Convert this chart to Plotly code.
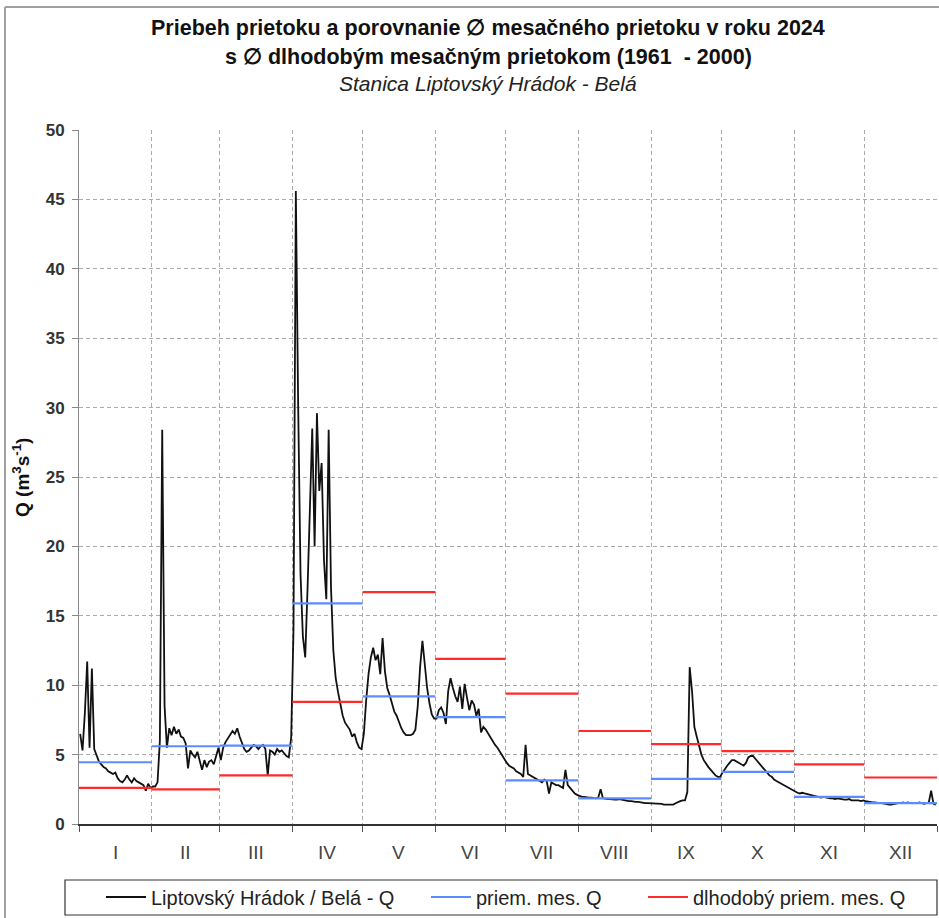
import plotly.graph_objects as go

# ---------------- data ----------------
months = ["I", "II", "III", "IV", "V", "VI", "VII", "VIII", "IX", "X", "XI", "XII"]
month_days = [31, 29, 31, 30, 31, 30, 31, 31, 30, 31, 30, 31]

q_jan = [6.5, 5.3, 8.0, 11.7, 5.5, 11.2, 5.4, 4.9, 4.5, 4.3, 4.1, 4.0, 3.8, 3.7, 3.6, 3.7,
         3.3, 3.1, 3.0, 3.2, 3.5, 3.2, 3.0, 3.3, 3.1, 3.0, 2.9, 2.8, 2.4, 2.9, 2.6]
q_feb = [2.7, 2.7, 3.0, 6.0, 28.4, 8.5, 5.5, 6.9, 6.4, 7.0, 6.5, 6.8, 6.3, 6.2, 5.8, 4.0,
         5.3, 5.0, 4.8, 5.2, 4.5, 3.9, 4.6, 4.1, 4.5, 4.6, 4.3, 5.0, 5.5]
q_mar = [4.6, 5.5, 5.9, 6.2, 6.4, 6.7, 6.5, 6.9, 6.3, 5.8, 5.4, 5.2, 5.3, 5.5, 5.7, 5.6,
         5.4, 5.6, 5.7, 5.4, 3.5, 5.3, 5.2, 5.0, 5.4, 5.2, 5.3, 5.1, 4.9, 4.8, 6.2]
q_apr = [14.0, 45.6, 30.0, 18.0, 13.5, 12.0, 17.0, 22.0, 28.5, 20.0, 29.6, 24.0, 26.0, 19.0,
         16.2, 28.4, 17.0, 12.5, 10.5, 9.5, 8.5, 7.8, 7.3, 7.0, 6.8, 6.3, 6.5, 5.9, 5.5, 5.4]
q_may = [6.5, 8.9, 10.8, 12.0, 12.7, 11.8, 12.2, 10.8, 13.4, 11.0, 9.8, 9.3, 8.6, 8.1, 7.8,
         7.3, 6.9, 6.6, 6.4, 6.4, 6.4, 6.5, 6.8, 8.5, 11.3, 13.2, 11.5, 9.8, 8.7, 7.9, 7.6]
q_jun = [7.6, 8.2, 8.4, 8.0, 7.2, 9.6, 10.5, 9.8, 9.2, 8.8, 9.9, 8.3, 10.1, 9.1, 8.2, 8.9,
         8.6, 7.8, 8.3, 6.6, 7.0, 6.8, 6.5, 6.3, 5.9, 5.7, 5.5, 5.2, 4.9, 4.7]
q_jul = [4.4, 4.2, 4.1, 4.0, 3.8, 3.7, 3.6, 3.4, 5.7, 3.6, 3.5, 3.4, 3.3, 3.2, 3.1, 3.0,
         3.2, 3.1, 2.2, 3.0, 2.9, 2.8, 2.8, 2.7, 2.6, 3.9, 2.8, 2.6, 2.4, 2.2, 2.1]
q_aug = [2.0, 1.95, 1.95, 1.9, 1.9, 1.9, 1.85, 1.85, 1.9, 2.5, 1.85, 1.8, 1.8, 1.8, 1.75,
         1.75, 1.75, 1.8, 1.75, 1.7, 1.7, 1.65, 1.65, 1.6, 1.6, 1.6, 1.55, 1.55, 1.5, 1.5, 1.5]
q_sep = [1.5, 1.5, 1.5, 1.45, 1.45, 1.4, 1.4, 1.4, 1.45, 1.4, 1.5, 1.6, 1.65, 1.7, 1.7,
         2.3, 11.3, 9.6, 7.0, 6.3, 5.6, 5.0, 4.6, 4.3, 4.1, 3.9, 3.7, 3.5, 3.4, 3.4]
q_oct = [3.7, 4.0, 4.2, 4.4, 4.6, 4.6, 4.5, 4.4, 4.3, 4.2, 4.4, 4.8, 4.9, 4.9, 4.7, 4.5,
         4.3, 4.1, 3.9, 3.7, 3.5, 3.4, 3.2, 3.1, 3.0, 2.9, 2.8, 2.7, 2.6, 2.5, 2.4]
q_nov = [2.3, 2.25, 2.2, 2.25, 2.2, 2.15, 2.1, 2.05, 2.0, 1.95, 1.9, 1.9, 1.95, 1.9, 1.9,
         1.85, 1.85, 1.8, 1.85, 1.8, 1.8, 1.75, 1.75, 1.8, 1.7, 1.7, 1.75, 1.7, 1.65, 1.7]
q_dec = [1.65, 1.6, 1.6, 1.55, 1.55, 1.5, 1.5, 1.5, 1.45, 1.45, 1.4, 1.4, 1.45, 1.45, 1.5,
         1.5, 1.55, 1.5, 1.55, 1.5, 1.5, 1.45, 1.5, 1.55, 1.5, 1.45, 1.5, 1.55, 2.4, 1.45, 1.4]

monthly_mean_2024 = [4.45, 5.6, 5.65, 15.9, 9.2, 7.7, 3.15, 1.85, 3.25, 3.75, 1.95, 1.5]
longterm_mean = [2.6, 2.5, 3.5, 8.8, 16.7, 11.9, 9.4, 6.7, 5.75, 5.25, 4.3, 3.35]

y_ticks = [0, 5, 10, 15, 20, 25, 30, 35, 40, 45, 50]

# ---------------- build ----------------
daily = (q_jan + q_feb + q_mar + q_apr + q_may + q_jun + q_jul + q_aug + q_sep +
         q_oct + q_nov + q_dec)
days_x = [i + 0.5 for i in range(len(daily))]

bounds = [0]
for n in month_days:
    bounds.append(bounds[-1] + n)
mids = [(bounds[i] + bounds[i + 1]) / 2 for i in range(12)]


def steps(vals):
    xs, ys = [], []
    for i, v in enumerate(vals):
        xs += [bounds[i], bounds[i + 1], None]
        ys += [v, v, None]
    return xs, ys


bx, by = steps(monthly_mean_2024)
rx, ry = steps(longterm_mean)

FONT = "Liberation Sans"
W, H = 939, 918
L, R, T, B = 79, 2, 130, 94
PW, PH = W - L - R, H - T - B


def px_to_paper_x(px):
    return (px - L) / PW


def px_to_paper_y(py):
    return (H - B - py) / PH


fig = go.Figure()
fig.add_trace(go.Scatter(x=days_x, y=daily, mode="lines", name="Liptovský Hrádok / Belá - Q",
                         line=dict(color="#111111", width=1.8), legendwidth=270))
fig.add_trace(go.Scatter(x=bx, y=by, mode="lines", name="priem. mes. Q",
                         line=dict(color="#5b8cff", width=2.2), legendwidth=162))
fig.add_trace(go.Scatter(x=rx, y=ry, mode="lines", name="dlhodobý priem. mes. Q",
                         line=dict(color="#ff2a2a", width=2.2), legendwidth=215))

fig.update_layout(
    width=W, height=H,
    margin=dict(l=L, r=R, t=T, b=B, autoexpand=False),
    paper_bgcolor="white", plot_bgcolor="white",
    font=dict(family=FONT, color="#222222"),
    showlegend=True,
    legend=dict(orientation="h", xref="container", yref="container",
                x=101 / W, y=1 - 897 / H, xanchor="left", yanchor="middle",
                font=dict(family=FONT, size=20, color="#222222"),
                itemwidth=40, bgcolor="rgba(0,0,0,0)", borderwidth=0,
                tracegroupgap=0, itemclick=False),
)

fig.update_xaxes(range=[0, bounds[-1]], tickvals=bounds, showticklabels=False,
                 ticks="outside", ticklen=6, tickcolor="#555555",
                 showline=True, linecolor="#333333", linewidth=1.5,
                 showgrid=True, gridcolor="#aaaaaa", griddash="4px,3px", gridwidth=1,
                 zeroline=False, fixedrange=True)
fig.update_yaxes(range=[0, 50], tickvals=y_ticks, ticks="outside", ticklen=6,
                 tickcolor="#888888", ticklabelstandoff=4,
                 tickfont=dict(family=FONT, size=17, color="#333333", weight="bold"),
                 showline=True, linecolor="#888888", linewidth=1,
                 showgrid=True, gridcolor="#aaaaaa", griddash="4px,3px", gridwidth=1,
                 zeroline=False, fixedrange=True)

ann = []
# titles
ann.append(dict(text="<b>Priebeh prietoku a porovnanie ∅ mesačného prietoku v roku 2024</b>",
                x=px_to_paper_x(488), y=px_to_paper_y(28), xref="paper", yref="paper",
                xanchor="center", yanchor="middle",
                showarrow=False, font=dict(family=FONT, size=21.5, color="#111111")))
ann.append(dict(text="<b>s ∅ dlhodobým mesačným prietokom (1961  - 2000)</b>",
                x=px_to_paper_x(488), y=px_to_paper_y(57), xref="paper", yref="paper",
                xanchor="center", yanchor="middle",
                showarrow=False, font=dict(family=FONT, size=21.5, color="#111111")))
ann.append(dict(text="<i>Stanica Liptovský Hrádok - Belá</i>",
                x=px_to_paper_x(488), y=px_to_paper_y(83), xref="paper", yref="paper",
                xanchor="center", yanchor="middle",
                showarrow=False, font=dict(family=FONT, size=21, color="#222222")))
# y axis title
ann.append(dict(text="<b>Q (m<sup>3</sup>s<sup>-1</sup>)</b>", textangle=-90,
                x=px_to_paper_x(21), y=px_to_paper_y(478), xref="paper", yref="paper",
                xanchor="center", yanchor="middle",
                showarrow=False, font=dict(family=FONT, size=19, color="#111111")))
# month labels
for m, xm in zip(months, mids):
    ann.append(dict(text=m, x=xm, y=px_to_paper_y(852), xref="x", yref="paper",
                    xanchor="center", yanchor="middle",
                    showarrow=False, font=dict(family=FONT, size=19, color="#444444")))
fig.update_layout(annotations=ann)

shapes = [
    # legend frame
    dict(type="rect", xref="paper", yref="paper",
         x0=px_to_paper_x(65), x1=px_to_paper_x(937),
         y0=px_to_paper_y(915), y1=px_to_paper_y(880),
         line=dict(color="#333333", width=1.2), fillcolor="rgba(0,0,0,0)"),
    # outer chart frame (top and left edges visible)
    dict(type="line", xref="paper", yref="paper",
         x0=px_to_paper_x(5), x1=px_to_paper_x(5),
         y0=px_to_paper_y(960), y1=px_to_paper_y(7),
         line=dict(color="#a0a0a0", width=2)),
    dict(type="line", xref="paper", yref="paper",
         x0=px_to_paper_x(5), x1=px_to_paper_x(960),
         y0=px_to_paper_y(7), y1=px_to_paper_y(7),
         line=dict(color="#a0a0a0", width=2)),
]
fig.update_layout(shapes=shapes)

fig.write_html("out.html", config={"displayModeBar": False},
               post_script="document.body.style.margin='0';document.body.style.overflow='hidden';")
